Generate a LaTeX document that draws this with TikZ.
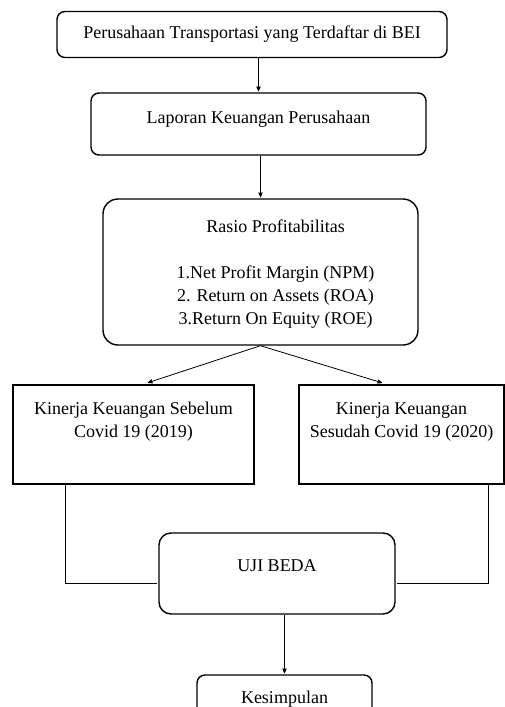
\documentclass[tikz,border=0pt]{standalone}
\usepackage{fontspec}
\setmainfont{Liberation Serif}
\usetikzlibrary{arrows}

\begin{document}
\begin{tikzpicture}[->,>=stealth',shorten >=1pt,x=1pt,y=-1pt,
                    font=\fontsize{18}{23}\selectfont,
                    main node/.style={draw,line width=1.4pt,rounded corners=8pt,align=center,inner sep=0pt},
                    flat node/.style={main node,rounded corners=0pt}]
  \useasboundingbox (0,0) rectangle (505,707);

  \node[main node,minimum width=390pt,minimum height=46pt] (1) at (252,34.5) {Perusahaan Transportasi yang Terdaftar di BEI};
  \node[main node,minimum width=335pt,minimum height=62pt] (2) at (258.5,124) {Laporan Keuangan Perusahaan\\[-10pt] ~};
  \node[main node,rounded corners=15pt,minimum width=315pt,minimum height=146pt] (3) at (260.5,272)
    {\hspace*{30pt}\begin{tabular}{@{}c@{}}Rasio Profitabilitas\\ \\ 1.Net Profit Margin (NPM)\\ 2. Return on Assets (ROA)\\ 3.Return On Equity (ROE)\\[-4pt] \end{tabular}};
  \node[flat node,minimum width=241pt,minimum height=99pt] (4) at (133.5,434.5) {Kinerja Keuangan Sebelum\\ Covid 19 (2019)\\[6pt] ~};
  \node[flat node,minimum width=205pt,minimum height=99pt] (5) at (401.5,434.5) {Kinerja Keuangan\\ Sesudah Covid 19 (2020)\\[6pt] ~};
  \node[main node,rounded corners=12pt,minimum width=236pt,minimum height=81pt] (6) at (277,573.5) {UJI BEDA\\[-8pt] ~};
  \node[main node,minimum width=175pt,minimum height=67pt] (7) at (284.5,708.5) {Kesimpulan\\ ~};

  \path[line width=0.8pt]
    (2.north |- 1.south) edge (2.north)
    (3.north |- 2.south) edge (3.north)
    (3.south) edge[shorten >=5pt] ([xshift=9.5pt]4.north)
    (3.south) edge[shorten >=5pt] ([xshift=-14.5pt]5.north)
    (7.north |- 6.south) edge (7.north);
  \draw[-,line width=0.8pt] ([xshift=-68.5pt]4.south) |- ([yshift=-9.5pt]6.west);
  \draw[-,line width=0.8pt] ([xshift=86.5pt]5.south) |- ([yshift=-9.5pt]6.east);
\end{tikzpicture}
\end{document}
